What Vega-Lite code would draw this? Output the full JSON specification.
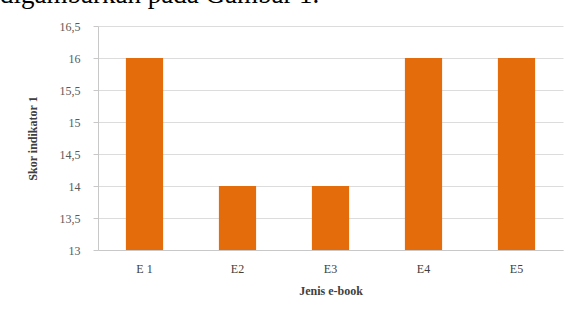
{
  "$schema": "https://vega.github.io/schema/vega-lite/v6.json",
  "autosize": "none",
  "width": 465,
  "height": 224,
  "padding": {"left": 98, "top": 26, "right": 13, "bottom": 63},
  "background": "white",
  "title": {
    "text": "digambarkan pada Gambar 1.",
    "anchor": "start",
    "frame": "group",
    "font": "Liberation Serif",
    "fontSize": 27,
    "fontWeight": "normal",
    "color": "#000000",
    "dx": -98,
    "dy": 10,
    "offset": 0,
    "baseline": "alphabetic"
  },
  "config": {
    "view": {"stroke": null},
    "font": "Liberation Serif",
    "axis": {"labelFont": "Liberation Serif", "titleFont": "Liberation Serif"}
  },
  "data": {
    "values": [
      {"ebook": "E 1", "skor": 16},
      {"ebook": "E2", "skor": 14},
      {"ebook": "E3", "skor": 14},
      {"ebook": "E4", "skor": 16},
      {"ebook": "E5", "skor": 16}
    ]
  },
  "mark": {"type": "bar", "color": "#E46C0A", "clip": true},
  "encoding": {
    "x": {
      "field": "ebook",
      "type": "nominal",
      "sort": null,
      "scale": {"paddingInner": 0.6, "paddingOuter": 0.3},
      "axis": {
        "title": "Jenis e-book",
        "titleFontSize": 12,
        "titleFontWeight": "bold",
        "titleColor": "#404040",
        "titlePadding": 11,
        "labelAngle": 0,
        "labelFontSize": 12,
        "labelColor": "#404040",
        "labelPadding": 13,
        "ticks": false,
        "domainColor": "#c8c8c8",
        "grid": false
      }
    },
    "y": {
      "field": "skor",
      "type": "quantitative",
      "scale": {"domain": [13, 16.5], "zero": false, "nice": false},
      "axis": {
        "title": "Skor indikator 1",
        "titleFontSize": 12,
        "titleFontWeight": "bold",
        "titleColor": "#404040",
        "titlePadding": 20,
        "values": [13, 13.5, 14, 14.5, 15, 15.5, 16, 16.5],
        "labelExpr": "replace(format(datum.value, '~g'), '.', ',')",
        "labelFontSize": 12,
        "labelColor": "#595959",
        "labelPadding": 13,
        "tickSize": 5,
        "tickColor": "#c8c8c8",
        "domainColor": "#c8c8c8",
        "gridColor": "#dcdcdc"
      }
    }
  }
}
